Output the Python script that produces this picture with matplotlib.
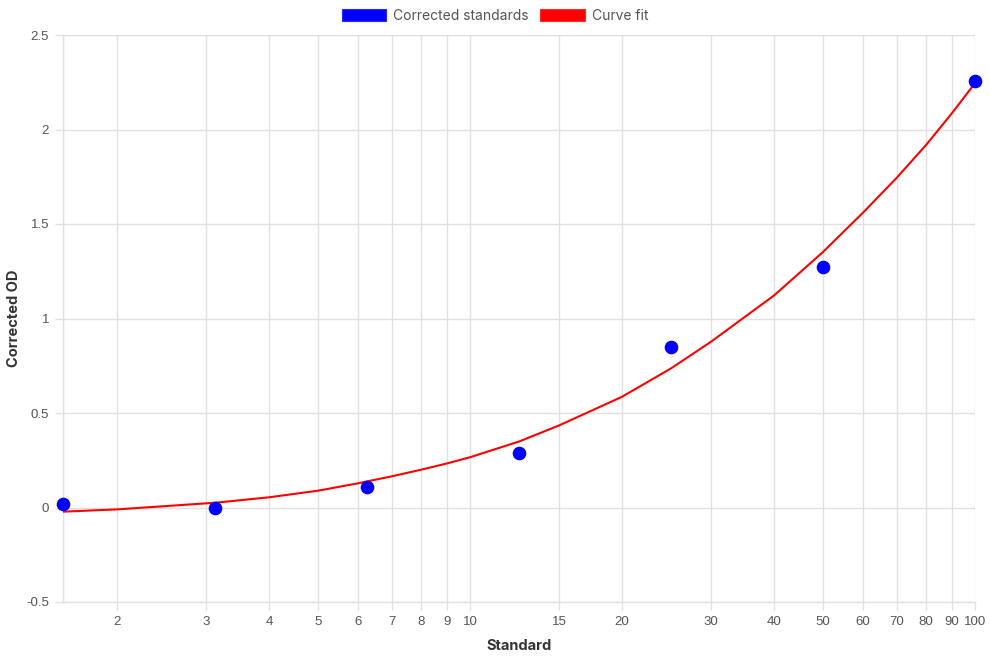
import matplotlib
matplotlib.use("Agg")
import matplotlib.pyplot as plt
from matplotlib.patches import Patch
from matplotlib.ticker import FixedLocator, FixedFormatter, NullLocator

# Data
std_x = [1.5625, 3.125, 6.25, 12.5, 25, 50, 100]
std_od = [0.016, 0.0, 0.11, 0.29, 0.85, 1.275, 2.256]

fit_x = [1.5625, 2, 3, 3.125, 4, 5, 6, 6.25, 7, 8, 9, 10, 12.5, 15, 20, 25, 30,
         40, 50, 60, 70, 80, 90, 100]
fit_y = [-0.022, -0.010, 0.022, 0.025, 0.054, 0.089, 0.128, 0.138, 0.165, 0.200,
         0.233, 0.266, 0.349, 0.434, 0.586, 0.736, 0.877, 1.122, 1.352, 1.560,
         1.745, 1.918, 2.086, 2.245]

x_ticks = [2, 3, 4, 5, 6, 7, 8, 9, 10, 15, 20, 30, 40, 50, 60, 70, 80, 90, 100]
x_tick_labels = [str(t) for t in x_ticks]
y_ticks = [-0.5, 0, 0.5, 1, 1.5, 2, 2.5]
y_tick_labels = ["-0.5", "0", "0.5", "1", "1.5", "2", "2.5"]

grid_c = "#e1e1e1"
tick_c = "#555555"

fig = plt.figure(figsize=(9.9, 6.6), dpi=100)
ax = fig.add_axes([63/990, 1-602/660, (975-63)/990, (602-35)/660])

ax.plot(fit_x, fit_y, color="#ff0000", lw=1.5, zorder=3, solid_joinstyle="round")
ax.plot(std_x, std_od, "o", color="#0000ff", ms=8.8, mec="#0000ff", zorder=4, clip_on=False)

ax.set_xscale("log")
ax.set_xlim(1.5625, 100)
ax.set_ylim(-0.5, 2.5)
ax.xaxis.set_major_locator(FixedLocator(x_ticks))
ax.xaxis.set_major_formatter(FixedFormatter(x_tick_labels))
ax.xaxis.set_minor_locator(NullLocator())
ax.set_yticks(y_ticks)
ax.set_yticklabels(y_tick_labels)

ax.grid(True, color=grid_c, lw=1)
ax.set_axisbelow(True)
for s in ["top", "right"]:
    ax.spines[s].set_visible(False)
for s in ["left", "bottom"]:
    ax.spines[s].set_color(grid_c)
    ax.spines[s].set_linewidth(1)
ax.tick_params(axis="both", which="major", color=grid_c, length=6, width=1,
               labelcolor=tick_c, labelsize=9.5, pad=4)
for lab in ax.get_xticklabels() + ax.get_yticklabels():
    lab.set_fontfamily("Liberation Sans")
ax.axvline(1.5625, color=grid_c, lw=1, zorder=0)

ax.set_xlabel("Standard", fontsize=10.5, fontweight="bold", color="#333333",
              family="Inter", labelpad=8)
ax.set_ylabel("Corrected OD", fontsize=10.5, fontweight="bold", color="#333333",
              family="Inter", labelpad=4)

handles = [Patch(facecolor="#0000ff", edgecolor="#2a2aff", lw=0.8, label="Corrected standards"),
           Patch(facecolor="#ff0000", edgecolor="#ff2a2a", lw=0.8, label="Curve fit")]
fig.legend(handles=handles, loc="center", bbox_to_anchor=(0.5, 1-16/660), ncol=2,
           frameon=False, prop={"family": "Inter", "size": 10}, labelcolor="#555555",
           handlelength=3.2, handleheight=1.0, handletextpad=0.5, columnspacing=0.8)

fig.savefig("out.png", dpi=100)
